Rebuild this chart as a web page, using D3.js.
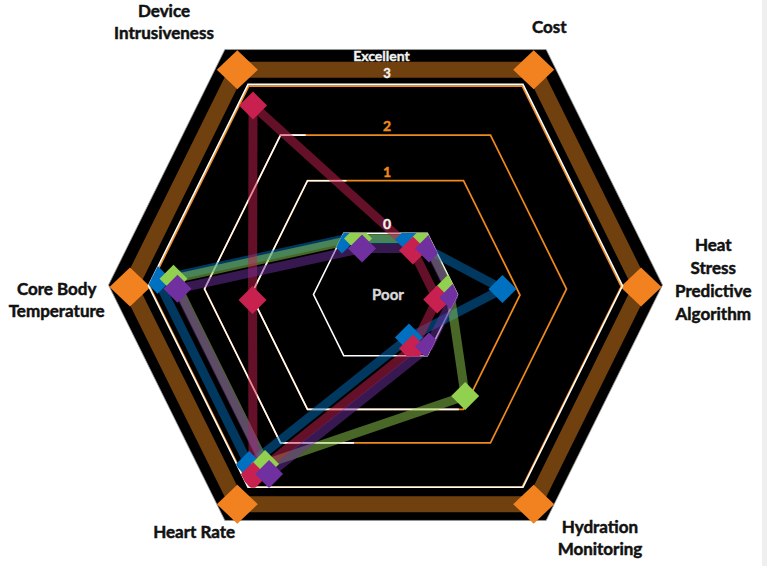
<!DOCTYPE html>
<html><head><meta charset="utf-8">
<script src="https://cdn.jsdelivr.net/npm/d3@7"></script>
<style>
body{margin:0;background:#fff}
svg{display:block}
text{font-family:Lato,"Open Sans","DejaVu Sans",sans-serif;font-weight:700}
</style>
</head><body>
<svg id="chart" width="767" height="566"></svg>
<script>
// ---------------- data ----------------
const axes = ["Device Intrusiveness","Cost","Heat Stress Predictive Algorithm","Hydration Monitoring","Heart Rate","Core Body Temperature"];
const axisLabelLines = [["Device","Intrusiveness"],["Cost"],["Heat","Stress","Predictive","Algorithm"],["Hydration","Monitoring"],["Heart Rate"],["Core Body","Temperature"]];
const seriesNames = ["Series A","Series B","Series C","Series D"];
const seriesAValues = [3,0,0,0,3,1];   // crimson
const seriesBValues = [0,0,0,0,3,3];   // purple
const seriesCValues = [0,0,0,1,3,3];   // green
const seriesDValues = [0,0,1,0,3,3];   // blue
const tickValues = [0,1,2,3];
const tickLabels = ["0","1","2","3"];
const minLabel = "Poor";
const maxLabel = "Excellent";

// ---------------- styles / layout ----------------
const seriesStyle = [
  {color:"#c8204f", nudge:[-6, 5]},
  {color:"#7030a0", nudge:[10, 3]},
  {color:"#92d050", nudge:[6, -7]},
  {color:"#0070c0", nudge:[-10, -6]}
];
const drawOrder = [3,2,0,1];
const cx = 385.5;
// flat-topped hexagon corner directions (top-left, top-right, right, bottom-right, bottom-left, left)
const dirX = [-0.58, 0.58, 1, 0.58, -0.58, -1];
const dirY = [-0.85, -0.85, 0, 0.85, 0.85, 0];
const rGrid  = d3.scaleLinear().domain(tickValues).range([72,134.5,181,237]);
const cyGrid = d3.scaleLinear().domain(tickValues).range([294.5,295,289,285.8]);
const rData  = d3.scaleLinear().domain(tickValues).range([57.7,127,175,218]);
const labelPos = [
  {x:164, y:16.7, lh:22.6},
  {x:549.3, y:32.7, lh:22},
  {x:713.3, y:250.7, lh:23.2},
  {x:600, y:533.3, lh:21.7},
  {x:194.2, y:538.3, lh:22},
  {x:56.7, y:295, lh:22}
];
const ORANGE = "#f08a1d", BROWN = "#71400f";

const svg = d3.select("#chart");
const pt = (i, r, cy) => [cx + r*dirX[i], cy + r*dirY[i]];
const hex = (r, cy) => d3.range(6).map(i => pt(i, r, cy));
const closed = pts => d3.line()(pts) + "Z";

// right border strip
svg.append("rect").attr("x",762).attr("y",0).attr("width",5).attr("height",566).attr("fill","#efefef");

// background hexagon
svg.append("path").attr("d", closed(hex(277, 285))).attr("fill","#000").attr("stroke","#9a9a9a").attr("stroke-width",0.8);

// brown frame
const frame = hex(255.5, 287);
svg.append("path").attr("d", closed(frame)).attr("fill","none").attr("stroke",BROWN).attr("stroke-width",16).attr("stroke-linejoin","miter");
svg.selectAll(".corner").data(frame).join("path")
  .attr("d", d => `M${d[0]},${d[1]-19.5}L${d[0]+20.5},${d[1]}L${d[0]},${d[1]+19.5}L${d[0]-20.5},${d[1]}Z`)
  .attr("fill","#f2821f");

// clip paths for markers at innermost / outermost ring
const defs = svg.append("defs");
[0,3].forEach(v => {
  defs.append("clipPath").attr("id","clip"+v).append("path").attr("d", closed(hex(rGrid(v)+0.5, cyGrid(v))));
});

// orange grid rings
tickValues.filter(v => v > 0).forEach(v => {
  svg.append("path").attr("d", closed(hex(rGrid(v) - (v===3?1.2:0), cyGrid(v) + (v===3?0.8:0))))
    .attr("fill","none").attr("stroke",ORANGE).attr("stroke-width",1.7);
});
// white rings (full at 0 and 3, partial on the left side at 1 and 2)
const partial = {1:[0.25,0.97], 2:[0.12,0.35]};
tickValues.forEach(v => {
  const h = hex(rGrid(v), cyGrid(v));
  let d;
  if (partial[v]) {
    const [tTop, tBot] = partial[v];
    const a = [h[0][0] + (h[1][0]-h[0][0])*tTop, h[0][1]];
    const b = [h[4][0] + (h[3][0]-h[4][0])*tBot, h[4][1]];
    d = d3.line()([a, h[0], h[5], h[4], b]);
  } else d = closed(h);
  svg.append("path").attr("d", d).attr("fill","none").attr("stroke","#fff").attr("stroke-width",1.6);
});

// series
const allValues = [seriesAValues, seriesBValues, seriesCValues, seriesDValues];
const seriesPts = allValues.map((vals, s) => vals.map((v, i) => {
  const p = pt(i, rData(v), cyGrid(v));
  return {x: p[0] + seriesStyle[s].nudge[0], y: p[1] + seriesStyle[s].nudge[1], v};
}));
const lineG = svg.append("g");
drawOrder.forEach(s => {
  lineG.append("path").attr("d", closed(seriesPts[s].map(p => [p.x, p.y])))
    .attr("fill","none").attr("stroke", seriesStyle[s].color).attr("stroke-opacity",0.5)
    .attr("stroke-width",9).attr("stroke-linejoin","miter");
});
const markG = svg.append("g");
drawOrder.forEach(s => {
  markG.selectAll(null).data(seriesPts[s]).join("path")
    .attr("d", p => `M${p.x},${p.y-14}L${p.x+14},${p.y}L${p.x},${p.y+14}L${p.x-14},${p.y}Z`)
    .attr("fill", seriesStyle[s].color)
    .attr("clip-path", p => (p.v===0||p.v===3) ? `url(#clip${p.v})` : null);
});

// tick labels
tickValues.forEach((v, k) => {
  const top = cyGrid(v) - 0.85*rGrid(v);
  svg.append("text").attr("x",387).attr("y", top - (v===3 ? 6.5 : 4))
    .attr("text-anchor","middle").attr("font-size", v===3 ? 13 : 14)
    .attr("fill", (v===0||v===3) ? "#f2f2f2" : ORANGE)
    .attr("stroke", (v===0||v===3) ? "#f2f2f2" : ORANGE).attr("stroke-width",0.4)
    .text(tickLabels[k]);
});
svg.append("text").attr("x",381.5).attr("y",60.5).attr("text-anchor","middle").attr("font-size",14)
  .attr("fill","#f2f2f2").attr("stroke","#f2f2f2").attr("stroke-width",0.4).text(maxLabel);
svg.append("text").attr("x",388).attr("y",300).attr("text-anchor","middle").attr("font-size",15)
  .attr("fill","#d9d9d9").attr("stroke","#d9d9d9").attr("stroke-width",0.4).text(minLabel);

// axis labels
axisLabelLines.forEach((lines, i) => {
  const t = svg.append("text").attr("text-anchor","middle").attr("font-size",17)
    .attr("fill","#111").attr("stroke","#111").attr("stroke-width",0.5);
  lines.forEach((ln, j) => t.append("tspan").attr("x", labelPos[i].x).attr("y", labelPos[i].y + j*labelPos[i].lh).text(ln));
});
</script>
</body></html>
